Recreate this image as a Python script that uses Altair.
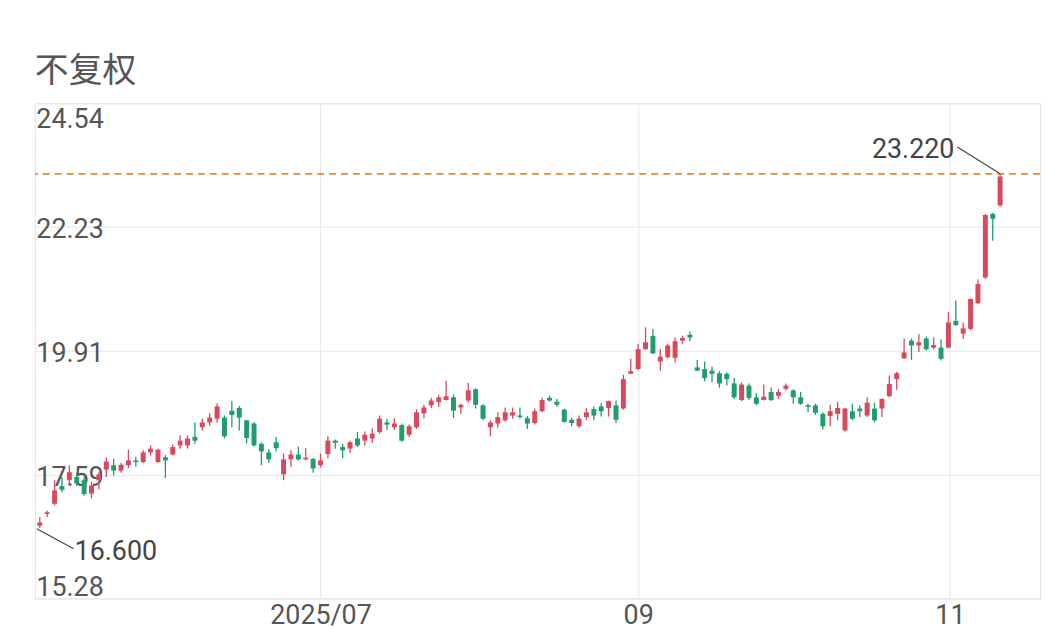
import altair as alt
import pandas as pd

# Daily OHLC (unadjusted)
open_ = [16.64, 16.86, 17.05, 17.38, 17.49, 17.55, 17.49, 17.24, 17.49, 17.69,
         17.77, 17.67, 17.77, 17.86, 17.83, 18.01, 17.83, 17.92, 17.97, 18.14,
         18.14, 18.30, 18.48, 18.57, 18.64, 18.66, 18.79, 18.84, 18.61, 18.55,
         18.17, 18.01, 18.20, 17.60, 17.88, 17.97, 17.88, 17.89, 17.77, 17.98,
         18.23, 18.11, 18.08, 18.27, 18.23, 18.27, 18.39, 18.57, 18.48, 18.52,
         18.34, 18.48, 18.74, 18.89, 18.95, 18.99, 19.04, 18.85, 18.98, 19.19,
         18.89, 18.48, 18.55, 18.61, 18.70, 18.70, 18.65, 18.56, 18.78, 19.03,
         18.96, 18.81, 18.62, 18.50, 18.67, 18.82, 18.87, 18.84, 18.89, 18.83,
         19.48, 19.57, 19.94, 20.19, 19.71, 19.79, 19.78, 20.10, 20.21, 19.60,
         19.57, 19.54, 19.49, 19.48, 19.30, 18.99, 19.26, 19.04, 18.99, 19.14,
         19.07, 19.20, 19.17, 19.04, 18.89, 18.89, 18.73, 18.69, 18.73, 18.42,
         18.78, 18.83, 18.70, 18.83, 18.83, 19.06, 19.38, 19.77, 20.10, 20.01,
         20.14, 19.97, 19.97, 19.97, 20.47, 20.23, 20.32, 20.80, 21.28, 22.47,
         22.63]
high = [16.80, 16.92, 17.49, 17.55, 17.77, 17.62, 17.55, 17.46, 17.64, 17.92,
        17.89, 17.81, 18.06, 17.93, 18.05, 18.14, 18.08, 17.96, 18.16, 18.33,
        18.33, 18.57, 18.64, 18.74, 18.93, 18.70, 18.97, 18.88, 18.62, 18.58,
        18.20, 18.07, 18.30, 17.99, 18.05, 18.12, 18.09, 17.90, 17.99, 18.31,
        18.25, 18.17, 18.23, 18.39, 18.40, 18.46, 18.70, 18.64, 18.65, 18.55,
        18.53, 18.82, 18.90, 19.03, 19.09, 19.35, 19.09, 18.92, 19.31, 19.21,
        18.91, 18.61, 18.76, 18.85, 18.85, 18.85, 18.69, 18.83, 19.03, 19.07,
        19.01, 18.83, 18.66, 18.70, 18.84, 18.87, 18.93, 18.98, 18.98, 19.46,
        19.76, 20.04, 20.35, 20.32, 19.94, 20.04, 20.16, 20.19, 20.27, 19.74,
        19.71, 19.61, 19.53, 19.51, 19.40, 19.32, 19.30, 19.12, 19.28, 19.23,
        19.20, 19.30, 19.19, 19.14, 18.92, 18.92, 18.76, 18.90, 18.96, 18.84,
        18.92, 18.89, 19.04, 18.94, 19.02, 19.45, 19.52, 20.14, 20.14, 20.22,
        20.18, 20.16, 20.12, 20.64, 20.85, 20.44, 20.89, 21.25, 22.47, 22.49,
        23.22]
low = [16.60, 16.80, 17.02, 17.27, 17.39, 17.38, 17.20, 17.15, 17.32, 17.55,
       17.58, 17.63, 17.72, 17.74, 17.81, 17.95, 17.81, 17.53, 17.95, 18.08,
       18.08, 18.17, 18.42, 18.51, 18.57, 18.27, 18.48, 18.42, 18.18, 18.12,
       17.77, 17.81, 18.03, 17.49, 17.74, 17.86, 17.86, 17.63, 17.73, 17.90,
       18.08, 17.90, 18.00, 18.11, 18.14, 18.19, 18.36, 18.43, 18.43, 18.21,
       18.30, 18.45, 18.65, 18.84, 18.86, 18.98, 18.65, 18.73, 18.94, 18.83,
       18.61, 18.31, 18.47, 18.59, 18.64, 18.64, 18.45, 18.53, 18.76, 18.96,
       18.86, 18.57, 18.50, 18.47, 18.62, 18.61, 18.68, 18.68, 18.56, 18.81,
       19.48, 19.55, 19.93, 19.85, 19.54, 19.77, 19.69, 20.04, 20.09, 19.53,
       19.34, 19.32, 19.22, 19.26, 19.01, 18.97, 18.99, 18.89, 18.98, 18.97,
       19.01, 19.17, 18.92, 18.90, 18.76, 18.71, 18.44, 18.50, 18.61, 18.40,
       18.61, 18.67, 18.67, 18.57, 18.67, 19.04, 19.18, 19.76, 19.74, 19.89,
       19.91, 19.94, 19.73, 19.96, 20.38, 20.13, 20.29, 20.78, 21.26, 21.97,
       22.61]
close = [16.70, 16.89, 17.30, 17.31, 17.64, 17.43, 17.23, 17.39, 17.60, 17.84,
         17.67, 17.78, 17.86, 17.83, 18.01, 18.08, 18.06, 17.86, 18.11, 18.23,
         18.27, 18.23, 18.57, 18.66, 18.87, 18.31, 18.71, 18.66, 18.28, 18.14,
         18.03, 17.88, 18.09, 17.88, 17.97, 17.88, 17.91, 17.71, 17.86, 18.23,
         18.19, 18.05, 18.20, 18.14, 18.34, 18.36, 18.64, 18.53, 18.55, 18.23,
         18.50, 18.76, 18.85, 18.98, 19.04, 19.06, 18.79, 18.90, 19.17, 18.90,
         18.64, 18.57, 18.67, 18.76, 18.76, 18.67, 18.55, 18.78, 18.99, 18.98,
         18.90, 18.58, 18.56, 18.64, 18.76, 18.70, 18.78, 18.97, 18.62, 19.38,
         19.53, 19.94, 20.07, 19.86, 19.80, 20.01, 20.09, 20.15, 20.16, 19.54,
         19.40, 19.48, 19.30, 19.38, 19.04, 19.28, 19.03, 18.92, 19.05, 18.99,
         19.14, 19.26, 19.04, 18.92, 18.86, 18.75, 18.50, 18.78, 18.84, 18.83,
         18.64, 18.78, 18.94, 18.61, 19.01, 19.29, 19.49, 19.88, 20.01, 20.07,
         19.94, 20.02, 19.76, 20.44, 20.39, 20.33, 20.88, 21.16, 22.45, 22.38,
         23.17]

y_ticks = [15.28, 17.59, 19.91, 22.23, 24.54]
x_tick_idx = [38, 81, 123.2]
x_tick_lab = ["2025/07", "09", "11"]
title_text = "不复权"

RED = "#D9485E"
GREEN = "#1F9D6F"
NUM_FONT = "Roboto"

df = pd.DataFrame({"i": list(range(len(open_))), "open": open_, "high": high,
                   "low": low, "close": close})
df["dir"] = ["up" if c >= o else "down" for o, c in zip(open_, close)]

imax = max(range(len(high)), key=lambda k: high[k])
imin = min(range(len(low)), key=lambda k: low[k])
max_df = pd.DataFrame({"i": [imax], "v": [high[imax]], "t": [f"{high[imax]:.3f}"]})
min_df = pd.DataFrame({"i": [imin], "v": [low[imin]], "t": [f"{low[imin]:.3f}"]})

label_expr = " : ".join(
    f"datum.value == {v} ? '{t}'" for v, t in zip(x_tick_idx, x_tick_lab)
) + " : ''"

xscale = alt.Scale(domain=[-0.67, 135.4], nice=False, zero=False, padding=0)
yscale = alt.Scale(domain=[y_ticks[0], y_ticks[-1]], nice=False, zero=False, padding=0)
cscale = alt.Scale(domain=["up", "down"], range=[RED, GREEN])

xaxis = alt.Axis(values=x_tick_idx, labelExpr=label_expr, grid=True, ticks=False,
                 domain=False, gridColor="#E6E6E6", labelFontSize=27,
                 labelColor="#555555", labelFont=NUM_FONT, labelPadding=4,
                 title=None)
yaxis = alt.Axis(values=y_ticks, format=".2f", grid=True, ticks=False, tickSize=0,
                 domain=False, gridColor="#E6E6E6", labelFontSize=27,
                 labelColor="#555555", labelFont=NUM_FONT, labelAlign="left",
                 labelPadding=-1, labelFlush=True, labelOffset=3, title=None)

base = alt.Chart(df)
wick = base.mark_rule(strokeWidth=1.3).encode(
    x=alt.X("i:Q", scale=xscale, axis=xaxis),
    y=alt.Y("low:Q", scale=yscale, axis=yaxis),
    y2="high:Q",
    color=alt.Color("dir:N", scale=cscale, legend=None),
)
body = base.mark_bar(size=5).encode(
    x=alt.X("i:Q", title=None),
    y=alt.Y("open:Q", title=None),
    y2="close:Q",
    color=alt.Color("dir:N", scale=cscale, legend=None),
)
max_line = alt.Chart(max_df).mark_rule(color="#E98A2E", strokeDash=[7, 5],
                                       strokeWidth=1.8).encode(
    y=alt.Y("v:Q", title=None))
max_lead = alt.Chart(max_df).mark_rule(color="#444444", strokeWidth=1.2,
                                       x2Offset=-43, y2Offset=-27).encode(
    x=alt.X("i:Q", title=None), y=alt.Y("v:Q", title=None), x2="i:Q", y2="v:Q")
max_text = alt.Chart(max_df).mark_text(align="right", baseline="middle", dx=-46, dy=-24,
                                       fontSize=27, font=NUM_FONT, color="#444444").encode(
    x=alt.X("i:Q", title=None), y=alt.Y("v:Q", title=None), text="t:N")
min_lead = alt.Chart(min_df).mark_rule(color="#444444", strokeWidth=1.2,
                                       xOffset=-3, yOffset=1,
                                       x2Offset=34, y2Offset=21).encode(
    x=alt.X("i:Q", title=None), y=alt.Y("v:Q", title=None), x2="i:Q", y2="v:Q")
min_text = alt.Chart(min_df).mark_text(align="left", baseline="middle", dx=35, dy=24,
                                       fontSize=27, font=NUM_FONT, color="#444444").encode(
    x=alt.X("i:Q", title=None), y=alt.Y("v:Q", title=None), text="t:N")

chart = alt.layer(wick, body, max_line, max_lead, max_text, min_lead, min_text).properties(
    width=1011, height=498,
    autosize=alt.AutoSizeParams(type="none"),
    padding={"left": 27, "top": 94, "right": 2, "bottom": 29},
    title=alt.TitleParams(title_text, anchor="start", frame="group", fontSize=34,
                          font="Noto Sans CJK SC", color="#555555",
                          fontWeight="normal", offset=14, dx=0),
).configure_view(stroke="#E3E3E3", strokeWidth=1)

chart.save("out.html", embed_options={"renderer": "svg", "actions": False})
